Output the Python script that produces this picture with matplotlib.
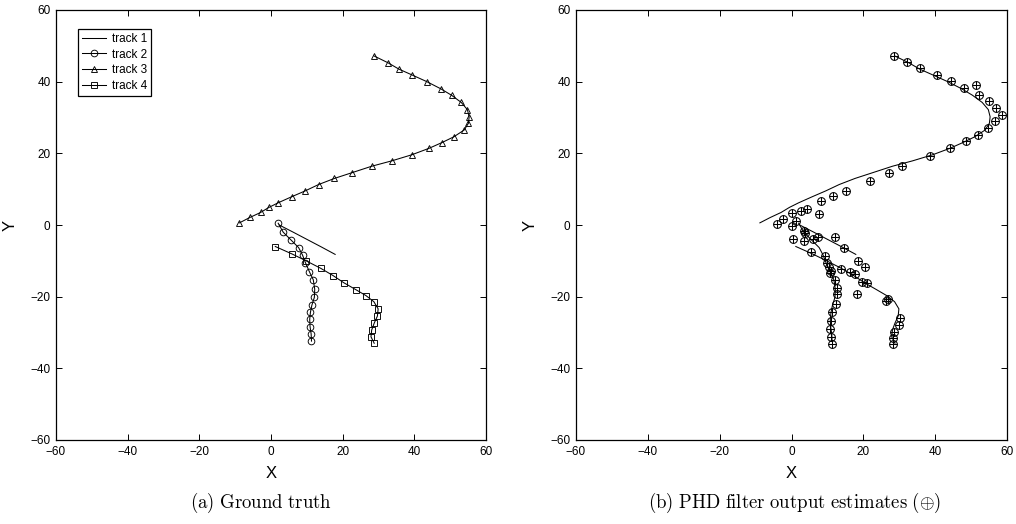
import matplotlib
matplotlib.use("Agg")
import matplotlib.pyplot as plt

plt.rcParams['font.family'] = ['Liberation Sans', 'DejaVu Sans']
plt.rcParams['mathtext.fontset'] = 'cm'

# ---------------- data ----------------
t1_x = [2.3, 6.0, 10.0, 14.0, 17.9]
t1_y = [0.0, -1.9, -4.0, -6.1, -8.2]

t2_x = [2.0, 3.4, 5.6, 7.7, 8.8, 9.6, 10.7, 11.8, 12.2, 12.1, 11.4, 11.0, 10.8, 10.9, 11.2, 11.3]
t2_y = [0.5, -2.0, -4.2, -6.3, -8.4, -10.5, -13.0, -15.3, -17.9, -20.2, -22.4, -24.4, -26.3, -28.4, -30.4, -32.4]

t3_x = [28.7, 32.6, 35.7, 39.3, 43.5, 47.4, 50.4, 53.1, 54.8, 55.3, 55.1, 53.9, 51.0, 47.7,
        44.1, 39.3, 33.7, 28.1, 22.6, 17.7, 13.3, 9.5, 5.8, 2.0, -0.6, -2.9, -5.9, -8.8]
t3_y = [47.2, 45.3, 43.5, 41.9, 40.0, 38.0, 36.2, 34.2, 32.2, 30.2, 28.4, 26.5, 24.6, 23.0,
        21.4, 19.6, 17.9, 16.4, 14.6, 13.0, 11.3, 9.5, 7.9, 6.2, 4.9, 3.5, 2.1, 0.6]

t4_x = [1.2, 5.9, 9.8, 13.9, 17.3, 20.3, 23.6, 26.5, 28.7, 29.9, 29.7, 28.8, 28.1, 27.9, 28.8]
t4_y = [-6.0, -8.1, -10.0, -12.1, -14.1, -16.1, -18.0, -19.7, -21.4, -23.4, -25.4, -27.4, -29.3, -31.2, -33.0]

est_x = [28.5, 32.2, 35.7, 40.4, 44.4, 48.0, 51.4, 52.1, 55.0, 56.8, 58.7, 56.7, 54.8, 51.8,
         48.5, 44.2, 38.7, 30.8, 27.2, 21.8, 15.2, 11.5, 8.3, 7.7, 4.2, 2.6, 0.05, -2.4,
         -4.1, 0.2, 1.25, 3.6, 3.8, 0.3, 3.6, 6.1, 7.5, 12.2, 14.7, 5.4, 9.3, 10.0, 10.5,
         10.9, 10.7, 13.7, 16.3, 17.7, 18.6, 20.5, 19.5, 20.9, 18.2, 12.2, 12.6, 12.6, 12.3,
         11.4, 11.0, 10.7, 11.0, 11.2, 26.2, 27.0, 30.3, 29.8, 28.6, 28.2, 28.2]
est_y = [47.2, 45.5, 43.7, 42.0, 40.3, 38.1, 39.1, 36.3, 34.6, 32.7, 30.7, 29.0, 27.2, 25.2,
         23.4, 21.4, 19.3, 16.5, 14.6, 12.2, 9.6, 8.1, 6.8, 3.0, 4.6, 3.9, 3.3, 1.7,
         0.4, -0.2, 1.1, -1.7, -2.1, -3.9, -4.5, -4.0, -3.4, -3.4, -6.3, -7.4, -8.7, -10.5, -11.8,
         -12.7, -13.5, -12.3, -13.2, -13.7, -10.0, -11.6, -15.8, -16.1, -19.3, -15.4, -17.5, -19.3, -22.0,
         -24.3, -26.7, -28.9, -31.2, -33.2, -21.1, -20.7, -26.0, -27.8, -29.8, -31.5, -33.2]

ticks = [-60, -40, -20, 0, 20, 40, 60]
labels = ["track 1", "track 2", "track 3", "track 4"]
captions = [r"$\mathrm{(a)\ Ground\ truth}$",
            r"$\mathrm{(b)\ PHD\ filter\ output\ estimates\ (}{\oplus}\mathrm{)}$"]

# ---------------- figure ----------------
W, H = 1016, 524
fig = plt.figure(figsize=(W / 100, H / 100), dpi=100)
axL = fig.add_axes([56 / W, 1 - 440 / H, 430 / W, 430 / H])
axR = fig.add_axes([576 / W, 1 - 440 / H, 431 / W, 430 / H])

lw = 0.75
ms = 4.8

def style(ax):
    ax.set_xlim(-60, 60)
    ax.set_ylim(-60, 60)
    ax.set_xticks(ticks)
    ax.set_yticks(ticks)
    ax.tick_params(direction='in', top=True, right=True, length=4, width=0.7,
                   labelsize=8.5, pad=4)
    for s in ax.spines.values():
        s.set_linewidth(0.9)
    ax.set_xlabel("X", fontsize=12)
    ax.set_ylabel("Y", fontsize=12)
    ax.xaxis.set_label_coords(0.5, -0.06)
    ax.yaxis.set_label_coords(-0.09, 0.5)

# left panel
axL.plot(t1_x, t1_y, '-', color='k', lw=lw, label=labels[0])
axL.plot(t2_x, t2_y, '-o', color='k', lw=lw, ms=ms, mfc='none', mew=0.65, label=labels[1])
axL.plot(t3_x, t3_y, '-^', color='k', lw=lw, ms=ms, mfc='none', mew=0.65, label=labels[2])
axL.plot(t4_x, t4_y, '-s', color='k', lw=lw, ms=ms - 0.7, mfc='none', mew=0.65, label=labels[3])
style(axL)
leg = axL.legend(loc='upper left', bbox_to_anchor=(0.051, 0.956), borderaxespad=0,
                 fancybox=False, framealpha=1, edgecolor='k', fontsize=8.5,
                 handlelength=2.0, handletextpad=0.5, labelspacing=0.3, borderpad=0.35)
leg.get_frame().set_linewidth(0.9)

# right panel
for xs, ys in [(t1_x, t1_y), (t2_x, t2_y), (t3_x, t3_y), (t4_x, t4_y)]:
    axR.plot(xs, ys, '-', color='k', lw=lw)
axR.plot(est_x, est_y, 'o', color='k', ms=5.6, mfc='none', mew=0.75, ls='none')
axR.plot(est_x, est_y, '+', color='k', ms=5.6, mew=0.75, ls='none')
style(axR)

fig.text(261 / W, 1 - 503 / H, captions[0], ha='center', va='center', fontsize=13.5)
fig.text(795 / W, 1 - 503 / H, captions[1], ha='center', va='center', fontsize=13.5)

fig.savefig("out.png", dpi=100)
